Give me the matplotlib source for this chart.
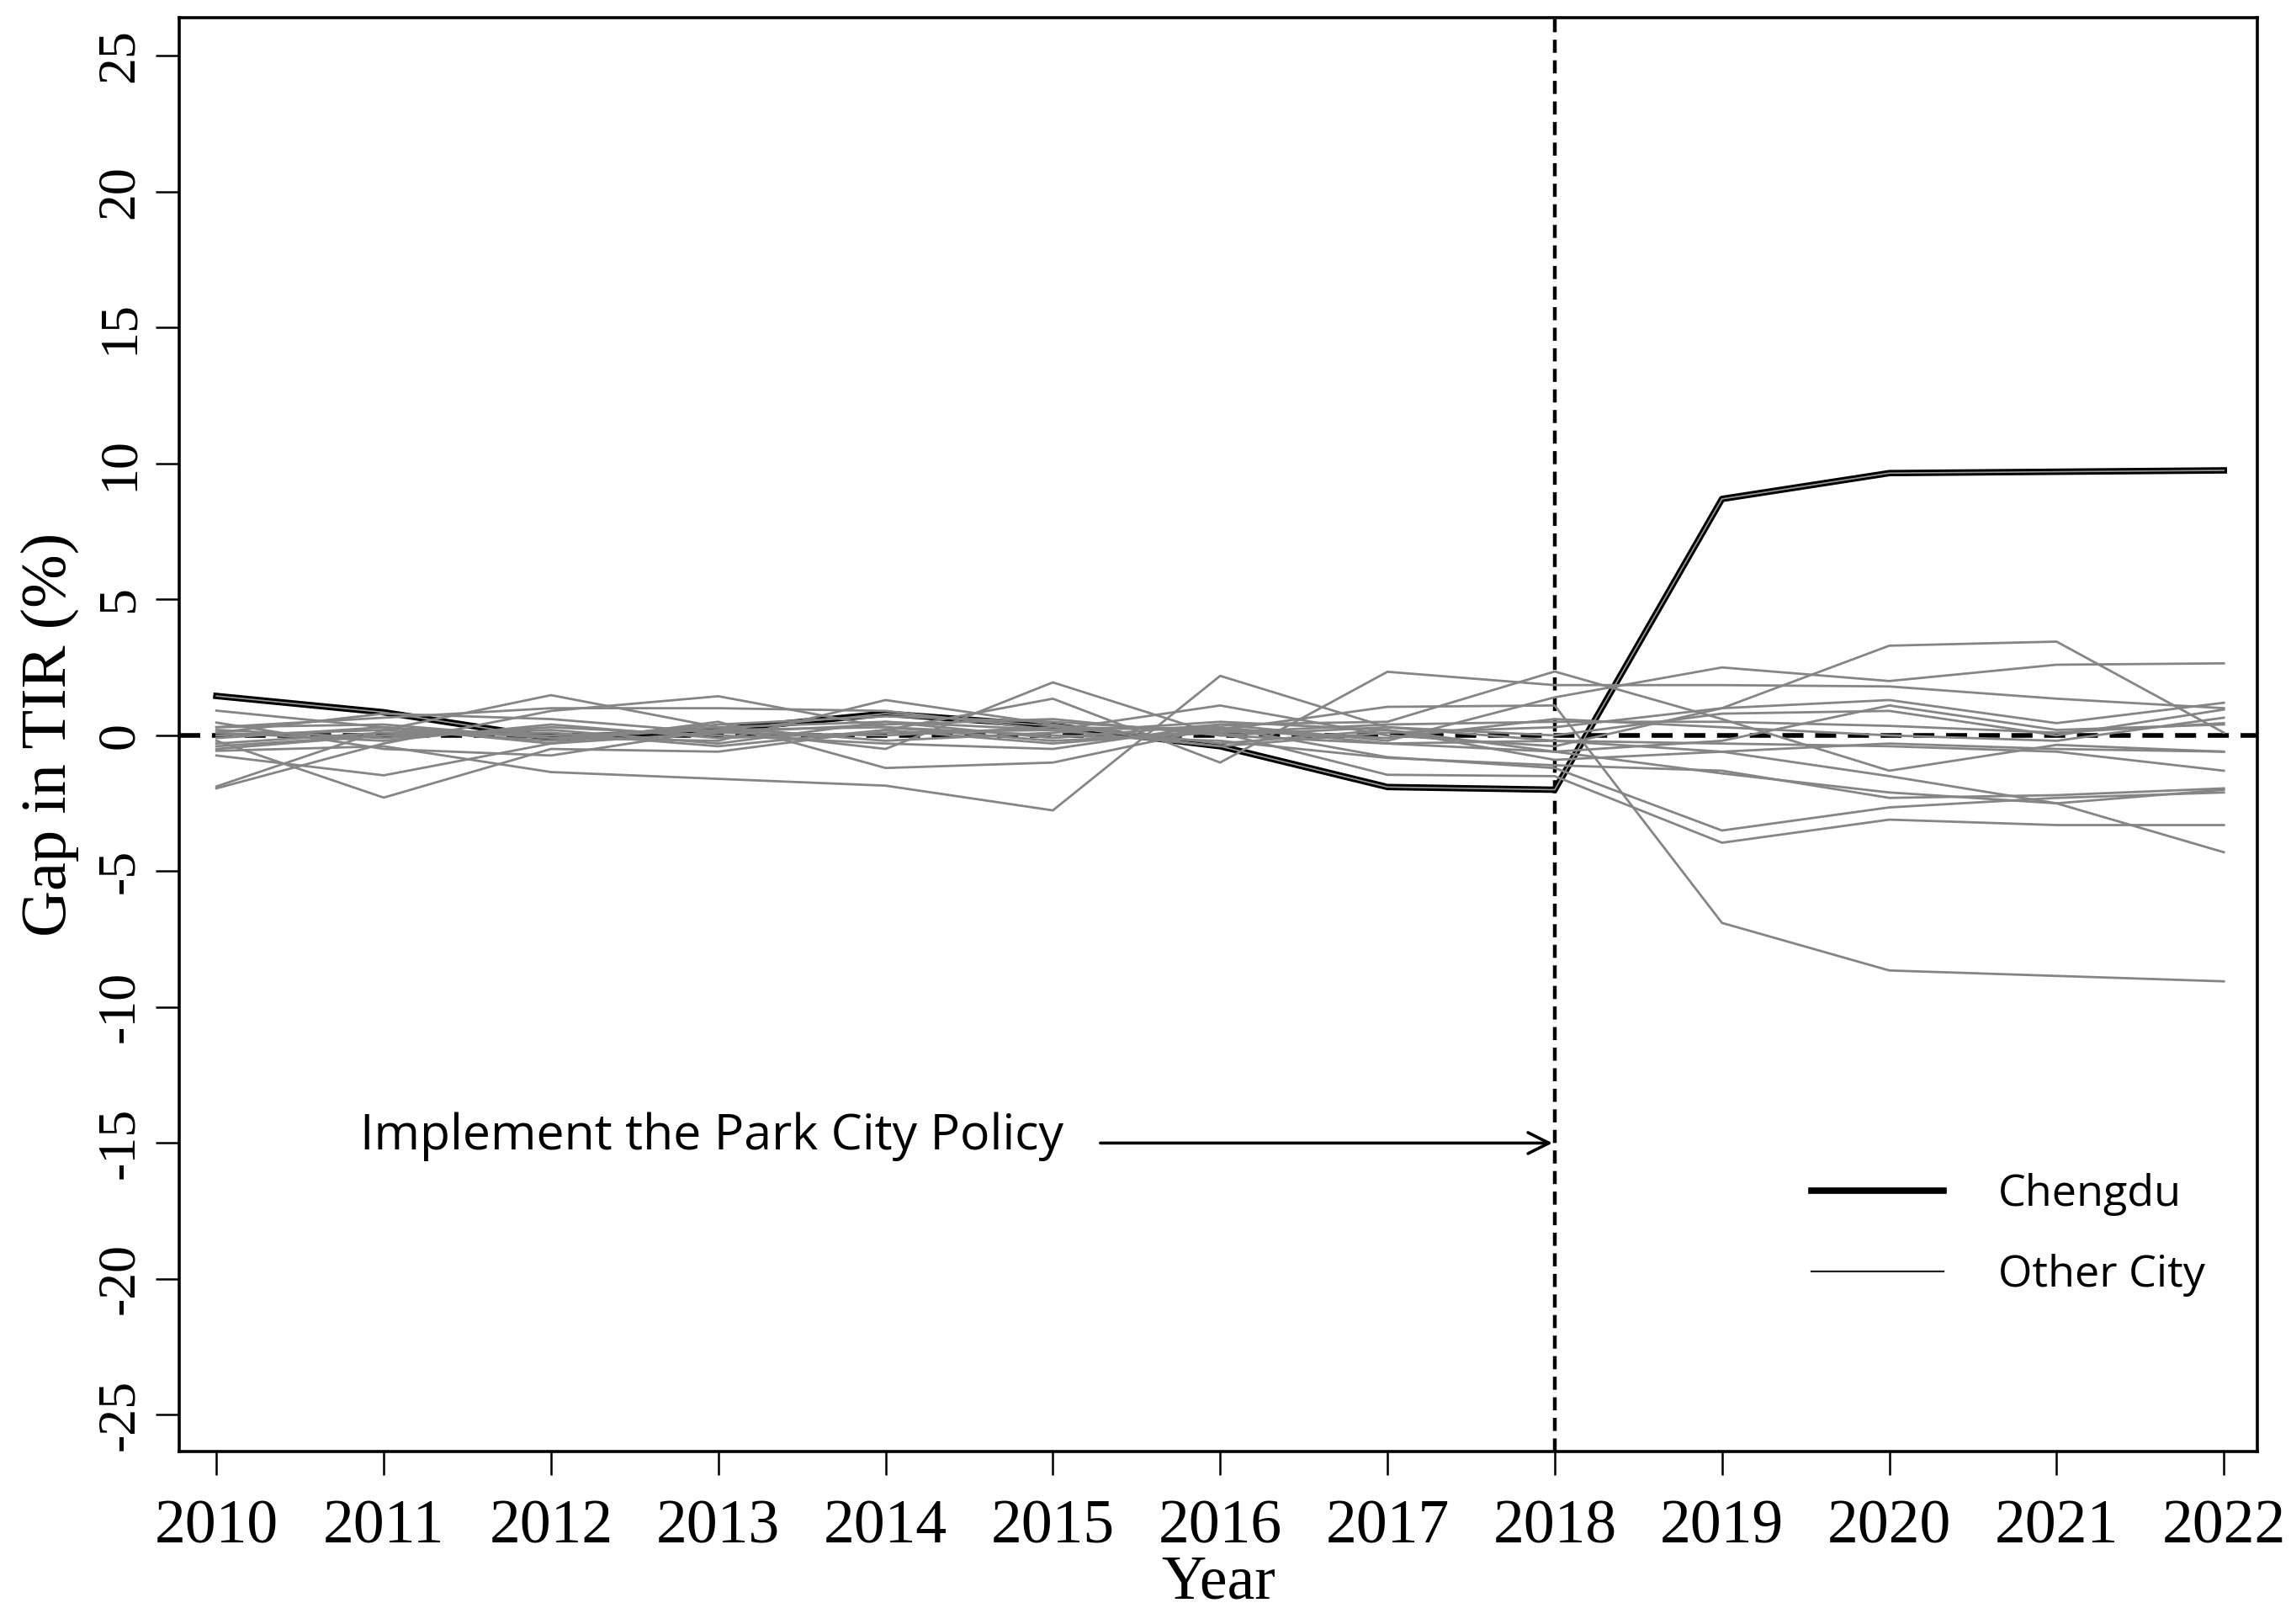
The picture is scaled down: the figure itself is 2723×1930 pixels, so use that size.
import matplotlib
matplotlib.use("Agg")
import matplotlib.pyplot as plt
from matplotlib.lines import Line2D

years = list(range(2010, 2023))

chengdu = [1.45, 0.85, -0.1, 0.2, 0.8, 0.35, -0.4, -1.9, -2.0, 8.7, 9.65, 9.7, 9.75]

s1 = [-1.88, 0.2, 1.48, 0.3, 0.5, 0.2, 0.3, -0.3, -0.6, -1.4, -2.1, -2.5, -2.0]
s2 = [-1.95, -0.3, 0.9, 1.44, 0.3, -0.2, 0.1, 0.4, 0.5, 0.5, 0.35, 0.1, 0.45]
s3 = [0.91, 0.3, -0.1, -0.2, 1.3, 0.4, -0.3, 0.2, -0.9, -0.6, -0.3, -0.5, -0.6]
s4 = [0.47, -0.5, -0.74, 0.2, -0.5, 1.95, 0.0, -0.3, -0.2, -0.3, -0.4, -0.6, -1.3]
s5 = [-0.74, -1.47, -0.3, 0.5, -1.2, -1.0, 0.3, -0.8, -1.2, -3.5, -2.65, -2.3, -2.1]
s6 = [-0.2, -2.29, -0.5, -0.6, 0.2, 1.35, -1.0, 2.34, 1.85, 1.85, 1.8, 1.35, 1.0]
s7 = [-0.57, -0.4, -1.35, -1.6, -1.85, -2.76, 2.19, 0.3, -0.2, -0.6, -1.5, -2.5, -4.3]
s8 = [0.1, 0.8, 0.6, 0.1, 0.0, 0.3, 0.2, 1.05, 1.1, -6.9, -8.65, -8.85, -9.05]
s9 = [0.3, 0.65, 1.0, 1.0, 0.9, 0.2, 1.1, 0.0, -0.4, 1.0, 3.3, 3.45, 0.1]
s10 = [-0.5, 0.0, 0.2, -0.3, 0.5, -0.1, 0.4, 0.5, 2.35, 0.6, -1.3, -0.35, -0.6]
s11 = [0.0, 0.2, -0.2, 0.4, 0.7, 0.5, 0.1, -1.45, -1.5, -3.95, -3.1, -3.3, -3.3]
s12 = [0.2, -0.1, 0.3, 0.0, -0.3, -0.5, 0.4, -0.2, 1.4, 2.5, 2.0, 2.6, 2.65]
s13 = [-0.3, 0.1, 0.0, 0.2, 0.3, 0.0, -0.2, -0.83, -1.1, -1.3, -2.3, -2.2, -1.95]
s14 = [0.1, -0.2, 0.4, -0.1, 0.1, 0.2, -0.4, 0.1, 0.3, 1.0, 1.3, 0.45, 1.2]
s15 = [-0.1, 0.3, -0.3, 0.1, 0.4, 0.6, 0.0, 0.3, 0.0, 0.8, 0.9, 0.0, 0.95]
s16 = [-0.4, 0.0, 0.1, -0.4, 0.2, -0.3, 0.2, -0.1, 0.6, 0.3, 0.0, -0.2, 0.65]
s17 = [0.3, 0.4, -0.1, 0.3, -0.2, 0.1, 0.5, 0.2, -0.6, -0.2, 1.1, 0.2, 0.4]
other_cities = [s1, s2, s3, s4, s5, s6, s7, s8, s9, s10, s11, s12, s13, s14, s15, s16, s17]

yticks = list(range(-25, 30, 5))
policy_year = 2018

serif = ["Liberation Serif", "DejaVu Serif"]
sans = ["Open Sans", "DejaVu Sans"]

fig = plt.figure(figsize=(27.23, 19.30), dpi=100)
ax = fig.add_axes([0.0784, 0.1062, 0.9069, 0.8828])

ax.axhline(0, color="black", lw=4.0, ls=(0, (4.5, 2.5)), zorder=1)
ax.axvline(policy_year, color="black", lw=3.2, ls=(0, (3.5, 2.0)), zorder=1)

ax.plot(years, chengdu, color="black", lw=5.5, zorder=2)
ax.plot(years, chengdu, color="#9a9a9a", lw=1.2, zorder=2.1)
for s in other_cities:
    ax.plot(years, s, color="#858585", lw=2.0, zorder=3)

ax.set_xlim(2009.78, 2022.2)
ax.set_ylim(-26.35, 26.4)
ax.set_xticks(years)
ax.set_xticklabels([str(y) for y in years], fontfamily=serif, fontsize=53)
ax.set_yticks(yticks)
ax.set_yticklabels([str(v) for v in yticks], fontfamily=serif, fontsize=46,
                   rotation=90, va="center")
ax.tick_params(axis="x", direction="out", length=20, width=1.8, pad=21)
ax.tick_params(axis="y", direction="out", length=20, width=1.8, pad=10)
for sp in ax.spines.values():
    sp.set_linewidth(2.6)

ax.set_xlabel("Year", fontfamily=serif, fontsize=53, labelpad=-1)
ax.set_ylabel("Gap in TIR (%)", fontfamily=serif, fontsize=55, labelpad=14)

ax.annotate("", xy=(policy_year, -15), xytext=(2015.27, -15),
            arrowprops=dict(arrowstyle="->", color="black", lw=2.6,
                            mutation_scale=45))
ax.text(2010.86, -14.75, "Implement the Park City Policy", fontfamily=sans,
        fontsize=42.5, ha="left", va="center")

handles = [Line2D([0], [0], color="black", lw=5.5),
           Line2D([0], [0], color="#222222", lw=1.6)]
ax.legend(handles, ["Chengdu", "Other City"], loc="upper left",
          bbox_to_anchor=(0.7855, 0.194), frameon=False,
          prop={"family": sans, "size": 37.5}, handlelength=3.0,
          handletextpad=1.25, labelspacing=0.85, borderpad=0,
          borderaxespad=0)

fig.savefig("out.png", dpi=100)
